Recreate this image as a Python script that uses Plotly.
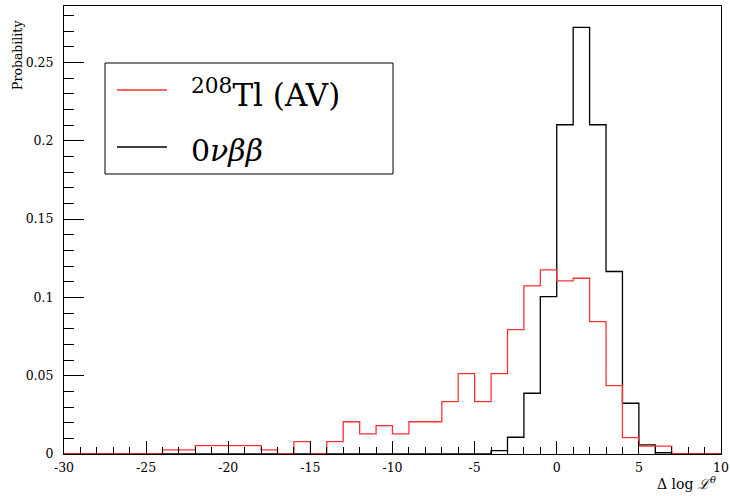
import numpy as np
import plotly.graph_objects as go

# Bin low edges (width 1) from -30 to 9, upper edge 10
bin_edges = list(range(-30, 11))

# 208Tl (AV) — red histogram, one value per bin (-30..-29, ..., 9..10)
tl208_values = [
    0, 0, 0, 0, 0, 0,                      # -30 .. -24
    0.0026, 0.0026,                        # -24 .. -22
    0.0053, 0.0053, 0.0053, 0.0053,        # -22 .. -18
    0.0026, 0.0,                           # -18 .. -16
    0.0079, 0.0,                           # -16 .. -14
    0.0079, 0.0206, 0.0128, 0.0181, 0.0128,  # -14 .. -9
    0.0206, 0.0206, 0.0334, 0.0513, 0.0334,  # -9 .. -4
    0.0513, 0.0794, 0.1073, 0.1176,          # -4 .. 0
    0.1105, 0.1122, 0.0845, 0.0437, 0.0104,  # 0 .. 5
    0.0050, 0.0050, 0, 0, 0                  # 5 .. 10
]

# 0nubb — black histogram
onbb_values = [
    0, 0, 0, 0, 0, 0, 0, 0, 0, 0,          # -30 .. -20
    0, 0, 0, 0, 0, 0, 0, 0, 0, 0,          # -20 .. -10
    0, 0, 0, 0, 0, 0,                      # -10 .. -4
    0.0021, 0.0107, 0.0388, 0.1005,        # -4 .. 0
    0.2102, 0.2724, 0.2102, 0.1165, 0.0324,  # 0 .. 5
    0.0058, 0.0008, 0, 0, 0                # 5 .. 10
]

y_ticks = [0, 0.05, 0.1, 0.15, 0.2, 0.25]
y_tick_text = ["0", "0.05", "0.1", "0.15", "0.2", "0.25"]
x_ticks = [-30, -25, -20, -15, -10, -5, 0, 5, 10]
x_tick_text = ["-30", "-25", "-20", "-15", "-10", "-5", "0", "5", "10"]

SERIF = "DejaVu Serif"


def step(values):
    return bin_edges, list(values) + [values[-1]]


fig = go.Figure()
bx, by = step(onbb_values)
fig.add_trace(go.Scatter(x=bx, y=by, mode="lines", line=dict(color="black", width=1.3, shape="hv"),
                         name="0νββ", showlegend=False, hoverinfo="skip"))
rx, ry = step(tl208_values)
fig.add_trace(go.Scatter(x=rx, y=ry, mode="lines", line=dict(color="#ff3333", width=1.3, shape="hv"),
                         name="208Tl (AV)", showlegend=False, hoverinfo="skip"))

ymax = 1.05 * max(onbb_values)

fig.update_layout(
    width=730, height=496,
    margin=dict(l=64, r=9, t=6, b=42, autoexpand=False),
    paper_bgcolor="white", plot_bgcolor="white",
    font=dict(family=SERIF, color="black", size=13),
    xaxis=dict(range=[-30, 10], tickvals=x_ticks, ticktext=x_tick_text, ticks="inside", ticklen=13,
               tickwidth=1, tickcolor="black", showgrid=False, zeroline=False,
               showline=True, linecolor="black", linewidth=1, mirror=True,
               minor=dict(dtick=1, ticks="inside", ticklen=7, tickcolor="black", showgrid=False),
               tickfont=dict(family=SERIF, size=12.5), ticklabelstandoff=2),
    yaxis=dict(range=[0, ymax], tickvals=y_ticks, ticktext=y_tick_text, ticks="inside", ticklen=20,
               tickwidth=1, tickcolor="black", showgrid=False, zeroline=False,
               showline=True, linecolor="black", linewidth=1, mirror=True,
               minor=dict(dtick=0.01, tick0=0, ticks="inside", ticklen=10, tickcolor="black", showgrid=False),
               tickfont=dict(family=SERIF, size=12.5), ticklabelstandoff=7),
)

W, H = 657.0, 448.0
L, T = 64.0, 6.0


def px(x):
    return (x - L) / W


def py(y):
    return (454.0 - y) / H


# Axis titles
fig.add_annotation(text="Probability", xref="paper", yref="paper", x=px(17), y=py(18),
                   xanchor="center", yanchor="top", textangle=-90, showarrow=False,
                   font=dict(family=SERIF, size=12.5, color="black"))
fig.add_annotation(text="Δ log <i>ℒ</i><sup><i>θ</i></sup>", xref="paper", yref="paper",
                   x=px(718), y=py(483), xanchor="right", yanchor="middle", showarrow=False,
                   font=dict(family=SERIF, size=14, color="black"))

# Legend box
fig.add_shape(type="rect", xref="paper", yref="paper", x0=px(105), x1=px(393), y0=py(174), y1=py(63),
              line=dict(color="black", width=1), fillcolor="white", layer="above")
fig.add_shape(type="line", xref="paper", yref="paper", x0=px(117), x1=px(167), y0=py(90), y1=py(90),
              line=dict(color="#ff3333", width=1.3))
fig.add_shape(type="line", xref="paper", yref="paper", x0=px(117), x1=px(167), y0=py(147), y1=py(147),
              line=dict(color="black", width=1.3))
fig.add_annotation(text="<sup>208</sup>Tl (AV)", xref="paper", yref="paper", x=px(189), y=py(93),
                   xanchor="left", yanchor="middle", showarrow=False,
                   font=dict(family=SERIF, size=31, color="black"))
fig.add_annotation(text="0<i>νββ</i>", xref="paper", yref="paper", x=px(189), y=py(150),
                   xanchor="left", yanchor="middle", showarrow=False,
                   font=dict(family=SERIF, size=30, color="black"))

fig.write_html("out.html", config={"displayModeBar": False},
               post_script="document.body.style.margin='0px';document.body.style.padding='0px';")
